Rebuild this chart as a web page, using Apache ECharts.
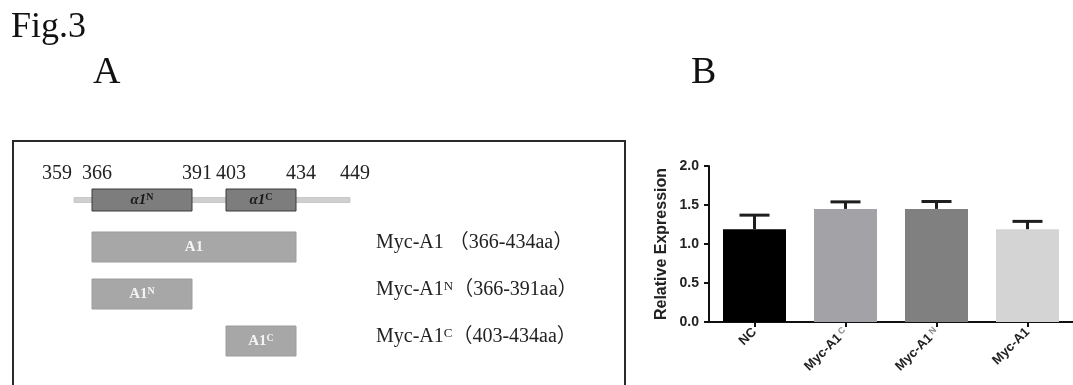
<!DOCTYPE html>
<html><head><meta charset="utf-8">
<script src="https://cdn.jsdelivr.net/npm/echarts@6/dist/echarts.min.js"></script>
<style>html,body{margin:0;padding:0;background:#fff}#c{width:1073px;height:385px}</style>
</head><body><div id="c"></div>
<script>
// ---------- Panel A data (amino-acid positions) ----------
const residueMarks = [359, 366, 391, 403, 434, 449];
const proteinSpan = [359, 449];
const domainNames = ['α1^N', 'α1^C'];
const domainStart = [366, 403];
const domainEnd = [391, 434];
const fragmentNames = ['A1', 'A1^N', 'A1^C'];
const fragmentStart = [366, 366, 403];
const fragmentEnd = [434, 391, 434];
const constructNames = ['Myc-A1 ', 'Myc-A1^N', 'Myc-A1^C'];
const rowNames = ['domains', 'A1', 'A1N', 'A1C'];
// ---------- Panel B data ----------
const categories = ['NC', 'Myc-A1^C', 'Myc-A1^N', 'Myc-A1'];
const expression = [1.19, 1.45, 1.45, 1.19];
const errorSD = [0.18, 0.09, 0.095, 0.10];
const yTicks = [0.0, 0.5, 1.0, 1.5, 2.0];

const barColors = ['#000000', '#a3a3a7', '#808080', '#d4d4d4'];
const serif = '"Liberation Serif", "Times New Roman", serif';
const serifCJK = '"Liberation Serif", "Noto Sans CJK SC", serif';
const sans = '"Liberation Sans", Arial, sans-serif';
const sup = (s) => s.replace(/\^(\w)/g, '{sup|$1}');

const chart = echarts.init(document.getElementById('c'), null, {renderer: 'canvas'});

function boxLabel(name, main, supColor) {
  return {
    style: Object.assign({text: sup(name), align: 'center', verticalAlign: 'middle'}, main, {
      rich: {sup: {fontFamily: serif, fontWeight: 'bold', fontSize: 10, lineHeight: 7, fill: supColor, verticalAlign: 'top'}}
    })
  };
}

const option = {
  backgroundColor: '#ffffff',
  animation: false,
  graphic: [
    {type: 'text', x: 11, y: 28, style: {text: 'Fig.3', font: '36px ' + serif, fill: '#111', verticalAlign: 'middle'}},
    {type: 'text', x: 93, y: 73, style: {text: 'A', font: '38px ' + serif, fill: '#111', verticalAlign: 'middle'}},
    {type: 'text', x: 691, y: 73, style: {text: 'B', font: '38px ' + serif, fill: '#111', verticalAlign: 'middle'}},
    {type: 'rect', shape: {x: 13, y: 141, width: 612, height: 300}, style: {fill: 'none', stroke: '#2a2a2a', lineWidth: 2}}
  ],
  grid: [
    {left: 74, width: 276, top: 176.5, height: 188},
    {left: 709, top: 166, width: 371, height: 156}
  ],
  xAxis: [
    {
      gridIndex: 0, type: 'value', min: proteinSpan[0], max: proteinSpan[1], show: false,
      breaks: [
        {start: 360, end: 364, gap: 1.5},
        {start: 393, end: 401, gap: 4.5},
        {start: 405, end: 432, gap: 13.5},
        {start: 436, end: 447, gap: 9.5}
      ],
      breakArea: {show: false}
    },
    {
      gridIndex: 1, type: 'category', data: categories,
      axisLine: {show: true, lineStyle: {color: '#111', width: 2}},
      axisTick: {show: true, alignWithLabel: true, length: 5, lineStyle: {color: '#111', width: 2}},
      axisLabel: {
        interval: 0, rotate: 45, margin: 8, color: '#222', fontFamily: sans, fontWeight: 'bold', fontSize: 13,
        formatter: (v) => sup(v),
        rich: {sup: {fontSize: 9, verticalAlign: 'top', color: '#8a8a8a', fontFamily: sans, padding: [0, 0, 0, 2]}}
      },
      splitLine: {show: false}
    }
  ],
  yAxis: [
    {gridIndex: 0, type: 'category', data: rowNames, inverse: true, show: false},
    {
      gridIndex: 1, type: 'value', min: yTicks[0], max: yTicks[yTicks.length - 1], interval: yTicks[1] - yTicks[0],
      name: 'Relative Expression', nameLocation: 'middle', nameGap: 39,
      nameTextStyle: {fontFamily: sans, fontWeight: 'bold', fontSize: 16, color: '#222'},
      axisLine: {show: true, lineStyle: {color: '#111', width: 2}},
      axisTick: {show: true, length: 5, lineStyle: {color: '#111', width: 2}},
      axisLabel: {margin: 10, color: '#222', fontFamily: sans, fontWeight: 'bold', fontSize: 14, formatter: (v) => v.toFixed(1)},
      splitLine: {show: false}
    }
  ],
  series: [
    // backbone
    {
      type: 'custom', xAxisIndex: 0, yAxisIndex: 0, z: 1,
      data: [[proteinSpan[0], proteinSpan[1], 0]],
      renderItem: (p, api) => {
        const s = api.coord([api.value(0), api.value(2)]);
        const e = api.coord([api.value(1), api.value(2)]);
        return {type: 'rect', shape: {x: s[0], y: s[1] - 2.5, width: e[0] - s[0], height: 5},
          style: {fill: '#cfcfcf', stroke: '#b3b3b3', lineWidth: 0.6}};
      }
    },
    // residue numbers
    {
      type: 'custom', xAxisIndex: 0, yAxisIndex: 0, z: 3,
      data: residueMarks.map((r) => [r, 0]),
      renderItem: (p, api) => {
        const c = api.coord([api.value(0), api.value(1)]);
        const first = p.dataIndex === 0;
        return {type: 'text', x: first ? c[0] - 2 : c[0] + 5, y: c[1] - 26,
          style: {text: String(api.value(0)), font: '20px ' + serif, fill: '#222',
            align: first ? 'right' : 'center', verticalAlign: 'middle'}};
      }
    },
    // domains
    {
      type: 'custom', xAxisIndex: 0, yAxisIndex: 0, z: 2,
      data: domainStart.map((s, i) => [s, domainEnd[i], 0]),
      renderItem: (p, api) => {
        const s = api.coord([api.value(0), api.value(2)]);
        const e = api.coord([api.value(1), api.value(2)]);
        return {
          type: 'rect', shape: {x: s[0], y: s[1] - 11, width: e[0] - s[0], height: 22},
          style: {fill: '#7d7d7d', stroke: '#3a3a3a', lineWidth: 1},
          textContent: boxLabel(domainNames[p.dataIndex], {font: 'italic bold 15px ' + serif, fill: '#1a1a1a'}, '#1a1a1a'),
          textConfig: {position: 'inside'}
        };
      }
    },
    // fragments + construct names
    {
      type: 'custom', xAxisIndex: 0, yAxisIndex: 0, z: 2,
      data: fragmentStart.map((s, i) => [s, fragmentEnd[i], i + 1]),
      renderItem: (p, api) => {
        const i = p.dataIndex;
        const s = api.coord([api.value(0), api.value(2)]);
        const e = api.coord([api.value(1), api.value(2)]);
        const right = api.coord([proteinSpan[1], api.value(2)]);
        const range = '（' + fragmentStart[i] + '-' + fragmentEnd[i] + 'aa）';
        return {
          type: 'group',
          children: [
            {
              type: 'rect', shape: {x: s[0], y: s[1] - 15, width: e[0] - s[0], height: 30},
              style: {fill: '#a7a7a7', stroke: '#9c9c9c', lineWidth: 1},
              textContent: boxLabel(fragmentNames[i], {font: 'bold 15px ' + serif, fill: '#f4f4f4'}, '#f4f4f4'),
              textConfig: {position: 'inside'}
            },
            {
              type: 'text', x: right[0] + 26, y: s[1] - 4,
              style: {
                text: sup(constructNames[i]) + range, font: '20px ' + serifCJK, fill: '#222',
                verticalAlign: 'middle', align: 'left',
                rich: {sup: {fontSize: 13, lineHeight: 9, fontFamily: serif, fill: '#222', verticalAlign: 'top'}}
              }
            }
          ]
        };
      }
    },
    // Panel B bars
    {
      type: 'bar', xAxisIndex: 1, yAxisIndex: 1, barWidth: 63, z: 2,
      data: expression.map((v, i) => ({value: v, itemStyle: {color: barColors[i]}}))
    },
    // error bars
    {
      type: 'custom', xAxisIndex: 1, yAxisIndex: 1, z: 3,
      data: expression.map((v, i) => [i, v, v + errorSD[i]]),
      renderItem: (p, api) => {
        const lo = api.coord([api.value(0), api.value(1)]);
        const hi = api.coord([api.value(0), api.value(2)]);
        const st = {stroke: '#1e1e1e', lineWidth: 3};
        return {type: 'group', children: [
          {type: 'line', shape: {x1: lo[0], y1: lo[1], x2: hi[0], y2: hi[1]}, style: st},
          {type: 'line', shape: {x1: hi[0] - 15, y1: hi[1], x2: hi[0] + 15, y2: hi[1]}, style: st}
        ]};
      }
    }
  ]
};
chart.setOption(option);
</script></body></html>
